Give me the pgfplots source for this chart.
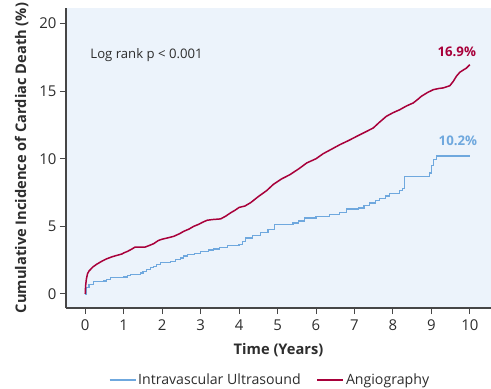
\documentclass[border=0pt]{standalone}
\usepackage{pgfplots}
\pgfplotsset{compat=1.18}
\usepackage{fontspec}
\setmainfont{Open Sans}
\definecolor{bgblue}{RGB}{236,243,251}
\definecolor{angio}{RGB}{168,0,58}
\definecolor{ivus}{RGB}{111,168,222}
\definecolor{axgray}{RGB}{70,70,70}
\definecolor{txtgray}{RGB}{45,45,45}
\begin{document}
\begin{tikzpicture}
\path[use as bounding box] (-66bp,-81bp) rectangle (425bp,308bp);
\begin{axis}[
  at={(0,0)}, anchor=south west,
  scale only axis, width=425bp, height=300bp,
  xmin=-0.5, xmax=10.55, ymin=-1.04, ymax=21.15,
  axis x line*=bottom, axis y line*=left,
  axis line style={axgray, line width=1.3bp},
  axis background/.style={fill=bgblue},
  xtick={0,1,...,10}, ytick={0,5,10,15,20},
  tick style={axgray, line width=1bp},
  tick align=outside, major tick length=6bp,
  /pgf/number format/assume math mode=true,
  tick label style={font=\fontsize{15}{17}\selectfont, text=txtgray},
  xticklabel style={yshift=-2bp},
  xlabel={\textbf{Time (Years)}},
  ylabel={\textbf{Cumulative Incidence of Cardiac Death (\%)}},
  label style={font=\fontsize{14.7}{17}\selectfont, text=txtgray},
  xlabel style={yshift=-6bp},
  ylabel style={yshift=4bp},
  legend columns=2,
  legend style={draw=none, fill=none, at={(0.48,-0.24)}, anchor=center,
    font=\fontsize{14.2}{16}\selectfont, text=txtgray,
    /tikz/every even column/.append style={column sep=14bp}},
  legend image code/.code={\draw[#1] (0bp,0bp) -- (26bp,0bp);},
]
\addlegendimage{color=ivus, line width=1.3bp}
\addlegendentry{Intravascular Ultrasound}
\addlegendimage{color=angio, line width=1.3bp}
\addlegendentry{Angiography}
\addplot[forget plot, const plot mark left, color=ivus, line width=1.2bp] coordinates {
(0,0) (0.02,0.5) (0.1,0.7) (0.22,0.9) (0.48,0.95) (0.55,1.05) (0.65,1.2)
(1.0,1.26) (1.1,1.35) (1.17,1.45) (1.43,1.55) (1.5,1.65) (1.6,1.8) (1.7,1.95)
(1.78,2.05) (1.85,2.2) (1.95,2.34) (2.21,2.41) (2.35,2.55) (2.47,2.66) (2.55,2.8)
(2.65,2.9) (2.85,3.0) (3.0,3.15) (3.2,3.25) (3.34,3.33) (3.5,3.45) (3.69,3.57)
(4.0,3.68) (4.08,3.85) (4.17,4.14) (4.35,4.3) (4.55,4.56) (4.75,4.75) (4.93,5.12)
(5.4,5.25) (5.55,5.4) (5.71,5.62) (6.0,5.75) (6.36,5.87) (6.62,6.04) (6.8,6.29)
(7.1,6.36) (7.25,6.55) (7.4,6.73) (7.55,6.9) (7.66,7.03) (7.8,7.25) (7.92,7.42)
(8.18,7.64) (8.25,7.77) (8.3,8.7) (8.96,8.95) (9.0,9.5) (9.05,9.95) (9.13,10.2)
(10.0,10.2)
};
\addplot[forget plot, sharp plot, color=angio, line width=1.5bp, line join=round] coordinates {
(0,0) (0.01,0.6) (0.03,1.1) (0.06,1.5) (0.1,1.7) (0.2,2.0) (0.3,2.2) (0.45,2.45)
(0.56,2.6) (0.7,2.75) (0.82,2.85) (0.95,2.95) (1.0,3.03) (1.1,3.15) (1.2,3.3)
(1.3,3.47) (1.56,3.47) (1.68,3.6) (1.78,3.72) (1.9,3.95) (2.0,4.05) (2.15,4.15)
(2.3,4.26) (2.45,4.45) (2.56,4.63) (2.7,4.8) (2.82,5.0) (2.95,5.15) (3.05,5.3)
(3.17,5.45) (3.3,5.5) (3.52,5.55) (3.65,5.75) (3.78,6.0) (3.9,6.2) (4.0,6.4)
(4.15,6.5) (4.3,6.75) (4.5,7.2) (4.72,7.65) (4.89,8.1) (5.1,8.5) (5.32,8.82)
(5.55,9.25) (5.76,9.69) (6.0,10.0) (6.19,10.38) (6.4,10.7) (6.62,11.04)
(6.85,11.35) (7.06,11.66) (7.3,12.0) (7.49,12.28) (7.65,12.7) (7.83,13.14)
(8.0,13.4) (8.18,13.63) (8.35,13.9) (8.53,14.13) (8.65,14.4) (8.74,14.62)
(8.9,14.9) (9.05,15.11) (9.2,15.2) (9.31,15.24) (9.48,15.4) (9.57,15.73)
(9.65,16.1) (9.74,16.4) (9.85,16.6) (9.91,16.7) (10.0,16.96)
};
\node[anchor=west, font=\fontsize{13.2}{15}\selectfont, text=txtgray, inner sep=0pt] at (axis cs:0.13,17.7) {Log rank p < 0.001};
\node[font=\bfseries\fontsize{13.3}{15}\selectfont, text=angio, inner sep=0pt] at (axis cs:9.66,17.9) {16.9\%};
\node[font=\bfseries\fontsize{13.3}{15}\selectfont, text=ivus, inner sep=0pt] at (axis cs:9.69,11.3) {10.2\%};
\end{axis}
\end{tikzpicture}
\end{document}
